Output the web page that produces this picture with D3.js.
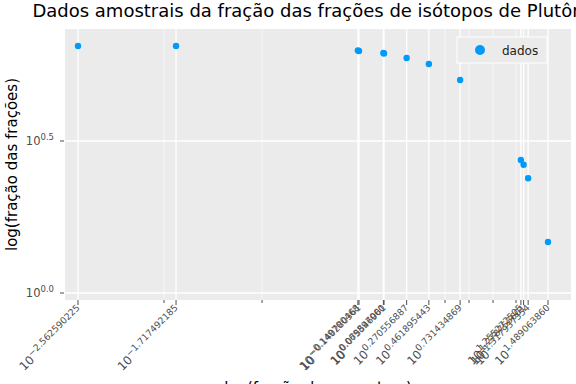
<!DOCTYPE html>
<html><head><meta charset="utf-8">
<script src="https://cdn.jsdelivr.net/npm/d3@7"></script>
<style>body{margin:0;background:#fff}svg{display:block;font-family:"DejaVu Sans",sans-serif}</style>
</head><body><svg id="c" width="576" height="384"></svg>
<script>
// data (log10 exponents)
const xLog = [-2.562590225, -1.717492185, -0.149700468, -0.140280361, 0.069897000, 0.075546961, 0.270556887, 0.461895443, 0.731434869, 1.255272505, 1.278753601, 1.317937354, 1.489063860];
const yLog = [0.8125, 0.8125, 0.7977, 0.7961, 0.7895, 0.7878, 0.773, 0.7533, 0.7007, 0.4375, 0.422, 0.3773, 0.1678];
const xTickLabels = ["\u22122.562590225", "\u22121.717492185", "\u22120.149700468", "\u22120.140280361", "0.069897000", "0.075546961", "0.270556887", "0.461895443", "0.731434869", "1.255272505", "1.278753601", "1.317937354", "1.489063860"];
const xMinor = [-1.821, -0.976, 0.601, 0.808, 1.015, 1.213];
const yTicks = [0.0, 0.5];
const yTickLabels = ["0.0", "0.5"];
const seriesName = "dados";
const title = "Dados amostrais da fração das frações de isótopos de Plutônio";
const xLabel = "log(fração das amostras)";
const yLabel = "log(fração das frações)";

const svg = d3.select("#c");
const L = 65, R = 571, T = 29, B = 300;
const x = d3.scaleLinear().domain([-2.6747, 1.6873]).range([L, R]);
const y = d3.scaleLinear().domain([-0.023, 0.8684]).range([B, T]);

svg.append("rect").attr("x", L).attr("y", T).attr("width", R - L).attr("height", B - T).attr("fill", "#EBEBEB");

// minor grid
svg.append("g").selectAll("line").data(xMinor).join("line")
  .attr("x1", d => x(d)).attr("x2", d => x(d)).attr("y1", T).attr("y2", B)
  .attr("stroke", "#fff").attr("stroke-opacity", 0.6).attr("stroke-width", 1);
// major grid
svg.append("g").selectAll("line").data(xLog).join("line")
  .attr("x1", d => x(d)).attr("x2", d => x(d)).attr("y1", T).attr("y2", B)
  .attr("stroke", "#fff").attr("stroke-width", 1.3);
svg.append("g").selectAll("line").data(yTicks).join("line")
  .attr("y1", d => y(d)).attr("y2", d => y(d)).attr("x1", L).attr("x2", R)
  .attr("stroke", "#fff").attr("stroke-width", 1.3);

// x tick marks
svg.append("g").selectAll("line").data(xLog).join("line")
  .attr("x1", d => x(d)).attr("x2", d => x(d)).attr("y1", B).attr("y2", B + 5)
  .attr("stroke", "#4D4D4D").attr("stroke-width", 1);
svg.append("g").selectAll("line").data(xMinor).join("line")
  .attr("x1", d => x(d)).attr("x2", d => x(d)).attr("y1", B).attr("y2", B + 3)
  .attr("stroke", "#4D4D4D").attr("stroke-width", 1);
// y tick marks
svg.append("g").selectAll("line").data(yTicks).join("line")
  .attr("y1", d => y(d)).attr("y2", d => y(d)).attr("x1", L - 5).attr("x2", L - 1)
  .attr("stroke", "#4D4D4D").attr("stroke-width", 1);

// y tick labels
const yt = svg.append("g").selectAll("text").data(yTicks).join("text")
  .attr("x", 54).attr("y", d => y(d) + 4).attr("text-anchor", "end").attr("fill", "#4D4D4D");
yt.append("tspan").attr("font-size", 11.5).text("10");
yt.append("tspan").attr("font-size", 8.5).attr("dy", -5).text((d, i) => yTickLabels[i]);

// x tick labels (rotated)
const xt = svg.append("g").selectAll("text").data(xLog).join("text")
  .attr("text-anchor", "end").attr("fill", "#4D4D4D")
  .attr("transform", d => `translate(${x(d) + 3},${B + 9}) rotate(-45)`);
xt.append("tspan").attr("font-size", 11.8).attr("dy", 4).text("10");
xt.append("tspan").attr("font-size", 9.2).attr("dy", -5).text((d, i) => xTickLabels[i]);

// points
svg.append("g").selectAll("circle").data(xLog).join("circle")
  .attr("cx", d => x(d)).attr("cy", (d, i) => y(yLog[i])).attr("r", 3.2)
  .attr("fill", "#009AFA");

// title
svg.append("text").attr("x", 316).attr("y", 17).attr("text-anchor", "middle")
  .attr("font-size", 18).attr("fill", "#000").text(title);
// axis labels
svg.append("text").attr("transform", `translate(17,${(T + B) / 2}) rotate(-90)`).attr("text-anchor", "middle")
  .attr("font-size", 15).attr("fill", "#000").text(yLabel);
svg.append("text").attr("x", (L + R) / 2).attr("y", 393).attr("text-anchor", "middle")
  .attr("font-size", 15).attr("fill", "#000").text(xLabel);

// legend
const lg = svg.append("g");
lg.append("rect").attr("x", 457).attr("y", 37).attr("width", 90).attr("height", 26)
  .attr("fill", "#EBEBEB").attr("stroke", "#fff").attr("stroke-width", 1);
lg.append("circle").attr("cx", 480).attr("cy", 50).attr("r", 5).attr("fill", "#009AFA");
lg.append("text").attr("x", 502).attr("y", 54.5).attr("font-size", 12).attr("fill", "#222").text(seriesName);
</script></body></html>
